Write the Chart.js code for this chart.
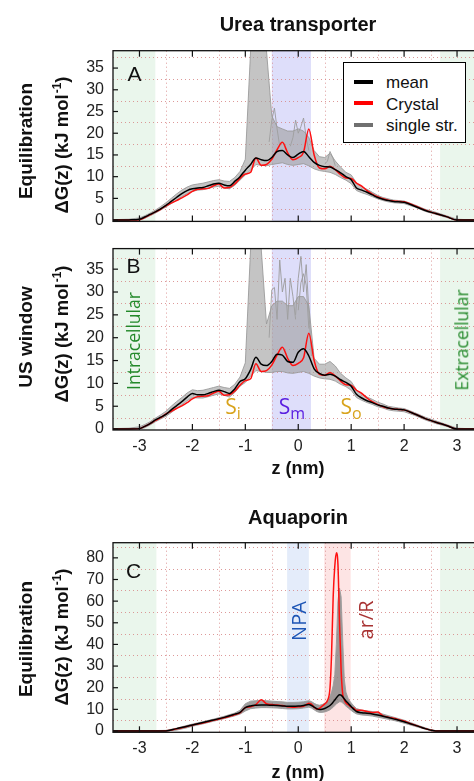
<!DOCTYPE html>
<html><head><meta charset="utf-8">
<script src="https://cdn.jsdelivr.net/npm/chart.js@4"></script>
<style>
html,body{margin:0;padding:0;background:#fff;}
body{width:474px;height:781px;overflow:hidden;position:relative;font-family:"Liberation Sans",Arial,sans-serif;color:#111;}
canvas{position:absolute;left:0;}
.t{position:absolute;white-space:nowrap;line-height:1;}
.c{transform:translate(-50%,-50%);}
.r{transform:translate(-50%,-50%) rotate(-90deg);}
.b{font-weight:bold;}
.sp{display:inline-block;font-size:12px;line-height:1;transform:translateY(-7px);margin-left:1px;}
.sb{font-size:16px;position:relative;top:5px;}
.os{font-family:"Open Sans",sans-serif;}
#leg{position:absolute;left:343px;top:62px;width:123px;height:81px;box-sizing:border-box;border:1.5px solid #000;background:#fff;}
#leg .ln{position:absolute;left:10px;width:19px;height:4px;}
#leg .lt{position:absolute;left:42px;font-size:17px;line-height:1;transform:translateY(-50%);}
</style></head><body>
<canvas id="cA" width="500" height="240" style="top:0px"></canvas>
<canvas id="cB" width="500" height="260" style="top:230px"></canvas>
<canvas id="cC" width="500" height="281" style="top:500px"></canvas>

<div class="t c b" style="left:298px;top:24px;font-size:20px">Urea transporter</div>
<div class="t c b" style="left:298px;top:468px;font-size:18px">z (nm)</div>
<div class="t c b" style="left:298px;top:517px;font-size:20px">Aquaporin</div>
<div class="t c b" style="left:298px;top:772px;font-size:18px">z (nm)</div>

<div class="t r b" style="left:25px;top:141px;font-size:19px">Equilibration</div>
<div class="t r b" style="left:62px;top:145px;font-size:18.5px">ΔG(z) (kJ mol<span class="sp">-1</span>)</div>
<div class="t r b" style="left:25px;top:337px;font-size:19px">US window</div>
<div class="t r b" style="left:62px;top:334px;font-size:18.5px">ΔG(z) (kJ mol<span class="sp">-1</span>)</div>
<div class="t r b" style="left:25px;top:639px;font-size:19px">Equilibration</div>
<div class="t r b" style="left:62px;top:637px;font-size:18.5px">ΔG(z) (kJ mol<span class="sp">-1</span>)</div>

<div class="t c" style="left:134.5px;top:72.5px;font-size:21px">A</div>
<div class="t c" style="left:133.5px;top:264.5px;font-size:21px">B</div>
<div class="t c" style="left:133.5px;top:569.5px;font-size:21px">C</div>

<div class="t r os" style="left:134px;top:341px;font-size:17.5px;color:#23892a">Intracellular</div>
<div class="t r os" style="left:462px;top:340px;font-size:17.5px;color:#23892a">Extracellular</div>
<div class="t c os" style="left:233px;top:406px;font-size:21px;color:#d8a31c">S<span class="sb">i</span></div>
<div class="t c os" style="left:292px;top:406px;font-size:21px;color:#5a1ee0">S<span class="sb">m</span></div>
<div class="t c os" style="left:351px;top:406px;font-size:21px;color:#d8a31c">S<span class="sb">o</span></div>
<div class="t r os" style="left:298.5px;top:621px;font-size:20px;color:#1d55b5">NPA</div>
<div class="t r os" style="left:365.5px;top:620px;font-size:20px;color:#a83232">ar/R</div>

<div id="leg">
  <div class="ln" style="top:17px;background:#000"></div><div class="lt" style="top:19px">mean</div>
  <div class="ln" style="top:38px;background:#ff0000"></div><div class="lt" style="top:40.5px">Crystal</div>
  <div class="ln" style="top:60px;background:#707070"></div><div class="lt" style="top:62px">single str.</div>
</div>

<script>
// ---------- shared axes ----------
const xTicks = [-3,-2,-1,0,1,2,3];
const gridX = [-2.5,-1.5,-0.5,0.5,1.5,2.5];
const yTicksUT = [0,5,10,15,20,25,30,35];
const gridYUT = [2.5,7.5,12.5,17.5,22.5,27.5,32.5,37.5];
const yTicksAQ = [0,10,20,30,40,50,60,70,80];
const gridYAQ = [5,15,25,35,45,55,65,75,85];

// ---------- urea transporter (panels A, B) ----------
const zUT = [-3.5,-3.2,-3.0,-2.9,-2.8,-2.7,-2.6,-2.5,-2.4,-2.3,-2.2,-2.1,-2.0,-1.9,-1.8,-1.7,-1.6,-1.5,-1.4,-1.3,-1.2,-1.1,-1.0,-0.9,-0.8,-0.7,-0.6,-0.5,-0.4,-0.3,-0.2,-0.1,0.0,0.1,0.2,0.3,0.4,0.5,0.6,0.7,0.8,0.9,1.0,1.1,1.2,1.3,1.4,1.5,1.6,1.7,1.8,1.9,2.0,2.2,2.4,2.6,2.8,3.0,3.2,3.5];
const crystalUT = [0,0,0.1,0.6,1.2,1.9,2.5,3.3,3.9,4.5,5.1,5.8,6.6,7.1,7.2,7.3,7.9,8.3,7.4,7.5,8.3,9.6,10.6,11.0,14.3,12.6,12.8,14.0,16.2,17.9,15.5,13.9,14.4,15.6,21.0,15.0,12.0,11.8,12.4,11.6,10.5,9.7,9.6,8.5,7.8,6.8,6.0,5.4,4.9,4.6,4.4,4.3,4.2,3.3,2.3,1.5,0.8,0,0,0];
const meanA = [0,0.05,0.2,0.7,1.3,1.9,2.6,3.4,4.3,5.2,6.1,6.8,7.2,7.4,7.5,7.9,8.3,8.5,8.1,7.9,8.9,10.0,11.5,12.8,14.3,13.9,13.7,14.4,15.8,16.0,15.0,14.4,15.2,15.8,14.6,13.3,12.6,12.3,12.2,11.6,10.9,10.0,9.3,7.4,6.9,6.4,5.8,5.2,4.8,4.5,4.3,4.2,4.1,3.2,2.2,1.5,0.8,0,0,0];
const upperA = [0.1,0.2,0.5,1.0,1.6,2.3,3.1,4.0,5.0,6.0,6.9,7.6,8.1,8.3,8.5,8.8,9.1,9.3,9.0,8.9,9.8,11.2,14.0,39,39,39,39,24,21.5,21,20.5,20.5,21,20.5,19,16,14.6,14.4,15.4,13.6,12.2,11.0,10.4,8.6,7.7,7.1,6.4,5.7,5.2,4.9,4.6,4.5,4.4,3.5,2.5,1.8,1.0,0.2,0.1,0.1];
const lowerA = [0,0,0,0.4,1.0,1.6,2.3,3.0,3.8,4.6,5.4,6.1,6.6,6.9,7.0,7.3,7.6,7.8,7.4,7.2,8.0,9.2,10.4,11.5,12.8,12.6,12.5,12.8,13.0,13.2,12.8,12.6,12.8,13.0,12.5,11.8,11.4,11.2,11.0,10.5,9.8,9.2,8.4,6.8,6.3,5.9,5.4,4.9,4.5,4.2,4.0,3.9,3.8,3.0,2.0,1.3,0.6,0,0,0];
const spikeA1z = [-0.55,-0.5,-0.45,-0.4,-0.35], spikeA1 = [18,23,25.8,21,17];
const spikeA2z = [-0.15,-0.1,-0.05,0.0,0.05,0.1,0.15,0.2], spikeA2 = [17,19,23,20,21.5,23.5,19,16];
const spikeA3z = [0.5,0.55,0.6,0.65,0.7], spikeA3 = [13,13.5,15.8,14.5,12.5];

const meanB = [0,0,0.1,0.6,1.2,2.0,2.6,3.2,4.2,5.1,6.0,7.0,7.8,7.5,7.5,7.8,8.2,8.5,8.2,7.8,8.8,10.4,11.0,13.0,15.7,14.2,13.9,14.8,16.4,16.2,14.8,14.6,16.8,17.6,16.0,13.2,12.2,11.8,12.0,11.6,10.8,10.2,9.4,7.6,6.8,6.2,5.8,5.3,5.0,4.6,4.4,4.3,4.2,3.3,2.3,1.5,0.8,0,0,0];
const upperB = [0.1,0.2,0.5,1.0,1.6,2.4,3.1,3.9,5.0,6.0,6.9,7.9,8.6,8.4,8.5,8.8,9.1,9.4,9.1,8.9,9.8,11.4,14.5,39.5,39.5,39.5,23,27,28,28,27,27,29,29,27,15.5,14.2,14.2,14.8,13.8,12.2,11.2,10.4,8.6,7.7,7.0,6.5,5.9,5.5,5.0,4.8,4.6,4.5,3.6,2.6,1.8,1.0,0.2,0.1,0.1];
const lowerB = [0,0,0,0.3,0.9,1.6,2.2,2.8,3.6,4.5,5.3,6.2,6.9,6.8,6.8,7.1,7.4,7.7,7.4,7.0,8.0,9.4,10.2,11.6,12.8,12.6,12.4,12.4,12.6,12.6,12.3,12.2,12.4,12.6,12.2,11.6,11.2,11.0,10.9,10.5,9.8,9.3,8.5,6.9,6.3,5.8,5.4,4.9,4.6,4.2,4.0,3.9,3.8,3.0,2.0,1.2,0.6,0,0,0];
const spikeB1z = [-0.55,-0.5,-0.45,-0.4], spikeB1 = [20,30.5,31,24];
const spikeB2z = [-0.4,-0.35,-0.3,-0.25,-0.2], spikeB2 = [24,37,30,33,24];
const spikeB3z = [-0.2,-0.15,-0.1,-0.05], spikeB3 = [24,33,29,24];
const spikeB4z = [-0.05,0.0,0.05,0.1,0.15,0.2,0.25], spikeB4 = [25,33,37.8,30,36,26,16];
const spikeB5z = [0.0,0.05,0.1,0.15,0.2], spikeB5 = [26,32,34,31.5,22];

// ---------- aquaporin (panel C) ----------
const zAQ = [-3.5,-3.0,-2.7,-2.5,-2.3,-2.1,-2.0,-1.8,-1.6,-1.4,-1.2,-1.1,-1.0,-0.9,-0.8,-0.7,-0.6,-0.5,-0.4,-0.3,-0.2,-0.1,0.0,0.1,0.2,0.25,0.3,0.35,0.4,0.45,0.5,0.55,0.6,0.63,0.66,0.69,0.72,0.75,0.78,0.81,0.84,0.87,0.9,0.95,1.0,1.05,1.1,1.2,1.3,1.4,1.5,1.6,1.7,1.8,1.9,2.0,2.1,2.2,2.3,2.4,2.5,2.6,2.8,3.0,3.5];
const meanC = [0,0,0,0,1.1,2.2,2.8,3.9,5.1,6.3,7.8,8.6,10.8,11.6,11.9,12.0,12.0,11.9,11.8,11.6,11.4,11.4,11.5,11.8,12.2,11.8,11.0,10.3,9.9,10.0,10.4,11.0,11.8,12.5,13.4,14.3,15.3,16.2,16.8,16.6,15.8,14.8,13.9,12.6,11.3,10.0,9.0,8.4,8.2,7.9,7.4,6.8,6.2,5.6,5.0,4.3,3.5,2.7,1.9,1.1,0.4,0,0,0,0];
const crystalC = [0,0,0,0.1,1.0,2.1,2.7,3.7,4.9,6.1,7.5,8.4,10.8,11.2,12.2,14.4,12.6,12.2,12.0,11.8,11.2,11.0,11.2,11.4,12.8,12.4,11.0,10.2,10.4,11.5,12.5,14.0,20.0,36,62,76,82.3,77,50,28,17,14.5,13.0,12.0,11.0,10.5,9.6,9.6,9.0,8.6,8.8,7.0,6.4,5.9,5.2,4.6,3.6,2.8,1.9,1.1,0.4,0,0,0,0];
const upperC = [0.2,0.2,0.2,0.3,1.3,2.6,3.2,4.3,5.5,6.8,8.3,9.6,12.6,13.8,14.0,14.2,14.0,13.8,13.6,13.5,13.2,13.2,13.3,13.5,14.0,13.6,12.8,12.2,11.9,12.2,12.8,14.0,16.0,18,21,26,40,60,66,62,42,24,18,14.5,13.0,11.6,10.4,9.6,9.3,9.0,8.5,7.8,7.1,6.4,5.7,5.0,4.1,3.2,2.3,1.5,0.7,0.2,0.1,0.1,0.1];
const lowerC = [0,0,0,0,0.4,1.5,2.2,3.3,4.5,5.7,7.0,7.8,9.2,10.3,10.6,10.8,10.8,10.7,10.6,10.4,10.2,10.2,10.3,10.6,11.0,10.6,9.8,9.0,8.6,8.6,8.8,9.2,9.8,10.4,11.0,11.8,12.5,13.0,13.5,13.5,13.0,12.2,11.5,10.5,9.5,8.6,7.9,7.4,7.2,6.9,6.4,5.9,5.4,4.9,4.3,3.6,2.9,2.2,1.5,0.8,0.2,0,0,0,0];

// ---------- helpers ----------
const pts = (zs, vs) => zs.map((z, i) => ({x: z, y: vs[i]}));
const GRAY_FILL = 'rgba(160,160,160,0.62)';
const GRAY_LINE = 'rgba(155,155,155,0.9)';

function datasets(z, mean, crystal, lower, upper, spikes, fillCol) {
  const ds = [
    {data: pts(z, mean), borderColor: '#000', borderWidth: 1.5, cubicInterpolationMode: 'monotone', fill: false},
    {data: pts(z, crystal), borderColor: '#ff1010', borderWidth: 1.5, cubicInterpolationMode: 'monotone', fill: false},
    {data: pts(z, lower), borderColor: GRAY_LINE, borderWidth: 1, fill: false},
    {data: pts(z, upper), borderColor: GRAY_LINE, borderWidth: 1, fill: {target: 2}, backgroundColor: fillCol}
  ];
  spikes.forEach(s => ds.push({data: pts(s[0], s[1]), borderColor: GRAY_LINE, borderWidth: 1, fill: false}));
  return ds;
}

function decor(cfg) {
  return {
    id: 'decor',
    beforeDatasetsDraw(chart) {
      const {ctx, chartArea: a, scales: {x, y}} = chart;
      ctx.save();
      cfg.bands.forEach(b => {
        const x0 = x.getPixelForValue(b[0]), x1 = x.getPixelForValue(b[1]);
        ctx.fillStyle = b[2];
        ctx.fillRect(x0, a.top, x1 - x0, a.bottom - a.top);
      });
      ctx.strokeStyle = 'rgba(215,135,135,0.85)';
      ctx.lineWidth = 1;
      ctx.setLineDash([1, 3]);
      gridX.forEach(v => {
        const p = Math.round(x.getPixelForValue(v)) + 0.5;
        ctx.beginPath(); ctx.moveTo(p, a.top); ctx.lineTo(p, a.bottom); ctx.stroke();
      });
      cfg.gridY.forEach(v => {
        const p = Math.round(y.getPixelForValue(v)) + 0.5;
        ctx.beginPath(); ctx.moveTo(a.left, p); ctx.lineTo(a.right, p); ctx.stroke();
      });
      ctx.restore();
    },
    afterDatasetsDraw(chart) {
      const {ctx, chartArea: a, scales: {x, y}} = chart;
      ctx.save();
      ctx.strokeStyle = '#111';
      ctx.lineWidth = 1.3;
      ctx.strokeRect(a.left, a.top, a.right - a.left, a.bottom - a.top);
      ctx.lineWidth = 1.2;
      xTicks.forEach(v => {
        const p = x.getPixelForValue(v);
        ctx.beginPath(); ctx.moveTo(p, a.bottom); ctx.lineTo(p, a.bottom - 6); ctx.stroke();
        ctx.beginPath(); ctx.moveTo(p, a.top); ctx.lineTo(p, a.top + 6); ctx.stroke();
      });
      cfg.yTicks.forEach(v => {
        const p = y.getPixelForValue(v);
        ctx.beginPath(); ctx.moveTo(a.left, p); ctx.lineTo(a.left + 5, p); ctx.stroke();
        ctx.beginPath(); ctx.moveTo(a.right, p); ctx.lineTo(a.right - 5, p); ctx.stroke();
      });
      ctx.restore();
    }
  };
}

function build(id, cfg) {
  const H = document.getElementById(id).height;
  return new Chart(document.getElementById(id), {
    type: 'line',
    data: {datasets: cfg.datasets},
    options: {
      responsive: false, animation: false, devicePixelRatio: 1,
      layout: {padding: {left: 113 - 40, right: 500 - 483.5, top: cfg.top, bottom: H - cfg.bottom - cfg.xh}},
      plugins: {legend: {display: false}, tooltip: {enabled: false}, title: {display: false}},
      elements: {point: {radius: 0}, line: {tension: 0}},
      scales: {
        x: {
          type: 'linear', min: -3.5, max: 3.5,
          grid: {display: false, drawTicks: false}, border: {display: false},
          afterBuildTicks: s => { s.ticks = xTicks.map(v => ({value: v})); },
          afterFit: s => { s.height = cfg.xh; },
          ticks: {display: cfg.showX, padding: 7, autoSkip: false, maxRotation: 0,
                  color: '#222', font: {family: "'Liberation Sans', Arial, sans-serif", size: 16}}
        },
        y: {
          type: 'linear', min: cfg.ymin, max: cfg.ymax,
          grid: {display: false, drawTicks: false}, border: {display: false},
          afterBuildTicks: s => { s.ticks = cfg.yTicks.map(v => ({value: v})); },
          afterFit: s => { s.width = 40; },
          ticks: {padding: 9, color: '#222', font: {family: "'Liberation Sans', Arial, sans-serif", size: 16}}
        }
      }
    },
    plugins: [decor(cfg)]
  });
}

const GREEN = 'rgb(234,246,236)';
const bandsUT = [[-3.5, -2.7, GREEN], [2.68, 3.5, GREEN], [-0.5, 0.24, 'rgb(222,222,250)']];
const bandsAQ = [[-3.5, -2.68, GREEN], [2.68, 3.5, GREEN], [-0.21, 0.2, 'rgb(228,236,250)'], [0.49, 0.99, 'rgb(253,228,228)']];

build('cA', {
  top: 50.7, bottom: 239, xh: 0, showX: false, ymin: -0.3, ymax: 39,
  yTicks: yTicksUT, gridY: gridYUT, bands: bandsUT,
  datasets: datasets(zUT, meanA, crystalUT, lowerA, upperA,
    [[spikeA1z, spikeA1], [spikeA2z, spikeA2], [spikeA3z, spikeA3]], GRAY_FILL)
});
build('cB', {
  top: 10, bottom: 200, xh: 30, showX: true, ymin: -0.2, ymax: 39.5,
  yTicks: yTicksUT, gridY: gridYUT, bands: bandsUT,
  datasets: datasets(zUT, meanB, crystalUT, lowerB, upperB,
    [[spikeB1z, spikeB1], [spikeB2z, spikeB2], [spikeB3z, spikeB3], [spikeB4z, spikeB4], [spikeB5z, spikeB5]], GRAY_FILL)
});
build('cC', {
  top: 42.7, bottom: 232.3, xh: 30, showX: true, ymin: -0.6, ymax: 87,
  yTicks: yTicksAQ, gridY: gridYAQ, bands: bandsAQ,
  datasets: datasets(zAQ, meanC, crystalC, lowerC, upperC, [], 'rgba(120,120,120,0.72)')
});
</script>
</body></html>
